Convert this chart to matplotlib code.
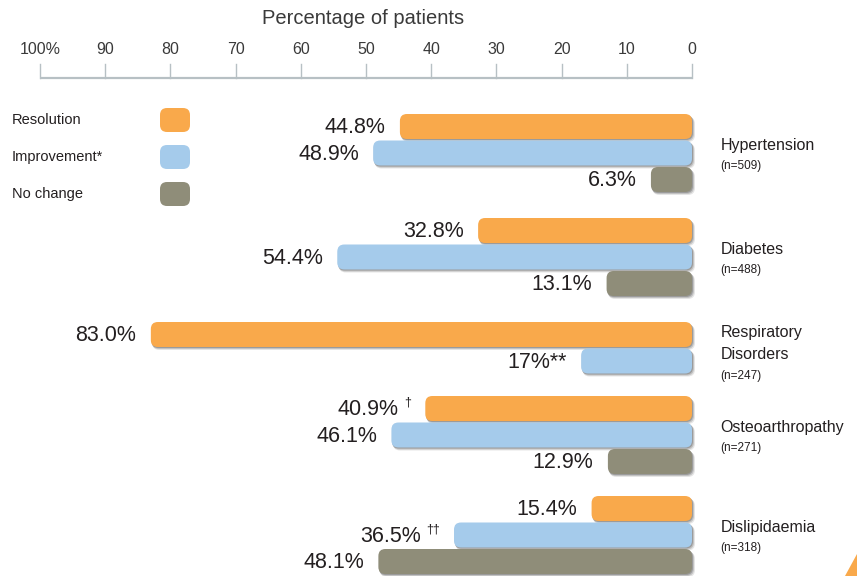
import numpy as np
import matplotlib.pyplot as plt
from matplotlib.patches import FancyBboxPatch, Polygon

plt.rcParams['font.family'] = ['Liberation Sans', 'DejaVu Sans']

# ---------------------------------------------------------------
# Data
# ---------------------------------------------------------------
categories = ["Hypertension", "Diabetes", "Respiratory\nDisorders",
              "Osteoarthropathy", "Dislipidaemia"]
n_labels = ["(n=509)", "(n=488)", "(n=247)", "(n=271)", "(n=318)"]

resolution = [44.8, 32.8, 83.0, 40.9, 15.4]
improvement = [48.9, 54.4, 17.0, 46.1, 36.5]
no_change = [6.3, 13.1, np.nan, 12.9, 48.1]

resolution_txt = ["44.8%", "32.8%", "83.0%", "40.9%", "15.4%"]
improvement_txt = ["48.9%", "54.4%", "17%**", "46.1%", "36.5%"]
no_change_txt = ["6.3%", "13.1%", "", "12.9%", "48.1%"]
resolution_sup = ["", "", "", "\u2020", ""]
improvement_sup = ["", "", "", "", "\u2020\u2020"]

series_names = ["Resolution", "Improvement*", "No change"]
colors = ["#F9A94B", "#A5CBEB", "#8F8D79"]

ticks = [100, 90, 80, 70, 60, 50, 40, 30, 20, 10, 0]
tick_labels = ["100%", "90", "80", "70", "60", "50", "40", "30", "20", "10", "0"]

# ---------------------------------------------------------------
# Layout (pixel units vertically, percent horizontally)
# ---------------------------------------------------------------
W, H = 857, 576
X0_PX, X100_PX = 692, 40
PX_PER = (X0_PX - X100_PX) / 100.0
group_y = [153, 257, 361, 435, 535]
step = 26.5
bar_h = 25
txt = "#231F20"

fig = plt.figure(figsize=(W / 100, H / 100), dpi=100)
ax = fig.add_axes([0, 0, 1, 1])
ax.set_xlim(X0_PX / PX_PER, -(W - X0_PX) / PX_PER)
ax.set_ylim(H, 0)
ax.axis("off")


def rbox(x_left, y_center, width, color, z=3, r_px=7):
    return FancyBboxPatch((x_left, y_center - bar_h / 2), width, bar_h,
                          boxstyle=f"round,pad=0,rounding_size={r_px / PX_PER}",
                          mutation_aspect=PX_PER, fc=color, ec="none", zorder=z)


def draw_bar(val, y, color, label, sup=""):
    if np.isnan(val):
        return
    # soft shadow below/right of the bar
    for k, a in [(3.0, 0.10), (2.0, 0.15), (1.0, 0.2)]:
        sh = rbox(-k / PX_PER, y + k, val + 0.5 * k / PX_PER, "#000000", z=2)
        sh.set_alpha(a)
        ax.add_patch(sh)
    ax.add_patch(rbox(0, y, val, color))
    gap = 2.2
    if sup:
        ax.text(val + gap, y - 6, sup, ha="right", va="center",
                fontsize=9, color=txt)
        gap += 1.0 + 0.9 * len(sup)
    ax.text(val + gap, y + 1, label, ha="right", va="center",
            fontsize=15.5, color=txt)


for i in range(len(categories)):
    y = group_y[i]
    draw_bar(resolution[i], y - step, colors[0], resolution_txt[i], resolution_sup[i])
    draw_bar(improvement[i], y, colors[1], improvement_txt[i], improvement_sup[i])
    draw_bar(no_change[i], y + step, colors[2], no_change_txt[i])

    name = categories[i]
    two = "\n" in name
    ax.text(-4.35, y - 3 + (1 if two else 0), name, ha="left", va="baseline",
            fontsize=11.5, color=txt, linespacing=1.55)
    ax.text(-4.35, y + 13 + (2 if two else 0), n_labels[i], ha="left",
            va="center", fontsize=8.5, color=txt)

# axis at top
ax.plot([100, 0], [78, 78], color="#B7C0C4", lw=1.6, solid_capstyle="butt")
for t, lab in zip(ticks, tick_labels):
    ax.plot([t, t], [64, 78], color="#B7C0C4", lw=1.0)
    ax.text(t, 50, lab, ha="center", va="center", fontsize=11.5, color="#3A3A3A")
ax.text(50.5, 19, "Percentage of patients", ha="center", va="center",
        fontsize=14.5, color="#3A3A3A")

# legend
leg_y = [120, 157, 194]
for name, c, yy in zip(series_names, colors, leg_y):
    ax.text((X0_PX - 12) / PX_PER, yy, name, ha="left", va="center",
            fontsize=10.5, color=txt)
    sw = FancyBboxPatch(((X0_PX - 190) / PX_PER, yy - 12), 30 / PX_PER, 24,
                        boxstyle=f"round,pad=0,rounding_size={7 / PX_PER}",
                        mutation_aspect=PX_PER, fc=c, ec="none")
    ax.add_patch(sw)

# decorative corner mark
fig.patches.append(Polygon([[845 / W, 0], [857 / W, 0], [857 / W, 22 / H]],
                           closed=True, transform=fig.transFigure,
                           fc="#F9A94B", ec="none"))

fig.savefig("out.png", dpi=100)
